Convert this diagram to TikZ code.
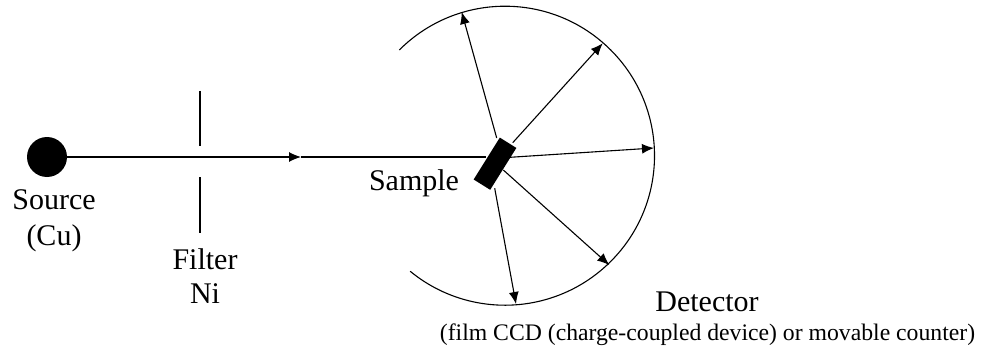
\documentclass[tikz,border=0pt]{standalone}
\usepackage{fontspec}
\setmainfont{Liberation Serif}
\usetikzlibrary{arrows.meta}
\begin{document}
\begin{tikzpicture}[x=1pt,y=-1pt,
  ray/.style={line width=1.1pt,-{Latex[length=12pt,width=10pt]}},
  plain/.style={line width=1.1pt},
  lab/.style={anchor=base,inner sep=0pt,font=\fontsize{30}{34}\selectfont},
  small/.style={anchor=base,inner sep=0pt,font=\fontsize{23.7}{26}\selectfont}]
\useasboundingbox (0,0) rectangle (981,350);
% source and sample
\node[circle,fill=black,minimum size=40pt,inner sep=0pt] (source) at (47,157) {};
\node[rectangle,fill=black,minimum width=19.5pt,minimum height=49.4pt,inner sep=0pt,rotate=-32] (sample) at (495,163.7) {};
% beam
\coordinate (mid) at (301,157);
\coordinate (hit) at (486,157);
\draw[ray] (source.east) -- (mid);
\draw[plain] (mid) -- (hit);
% filter
\coordinate (fa) at (200,91);
\coordinate (fb) at (200,146);
\coordinate (fc) at (200,177);
\coordinate (fd) at (200,233);
\draw[plain] (fa) -- (fb);
\draw[plain] (fc) -- (fd);
% detector arc
\draw[plain] (399.3,50) arc[start angle=-135,end angle=129.4,x radius=149.5,y radius=149.5];
% rays
\coordinate (s1) at (496.7,138); \coordinate (t1) at (461.7,12);
\coordinate (s2) at (512.7,142.7); \coordinate (t2) at (602.7,43.3);
\coordinate (s3) at (510,157.3); \coordinate (t3) at (654,148);
\coordinate (s4) at (503.3,170); \coordinate (t4) at (609.3,265);
\coordinate (s5) at (494.7,188.3); \coordinate (t5) at (516,304);
\draw[ray] (s1) -- (t1);
\draw[ray] (s2) -- (t2);
\draw[ray] (s3) -- (t3);
\draw[ray] (s4) -- (t4);
\draw[ray] (s5) -- (t5);
% labels
\node[lab] (l1) at (54,209) {Source};
\node[lab] (l2) at (54,245) {(Cu)};
\node[lab] (l3) at (205,269) {Filter};
\node[lab] (l4) at (205,303) {Ni};
\node[lab] (l5) at (414,190) {Sample};
\node[lab] (l6) at (707,311.7) {Detector};
\node[small] (l7) at (707.5,340) {(film CCD (charge-coupled device) or movable counter)};
\end{tikzpicture}
\end{document}
